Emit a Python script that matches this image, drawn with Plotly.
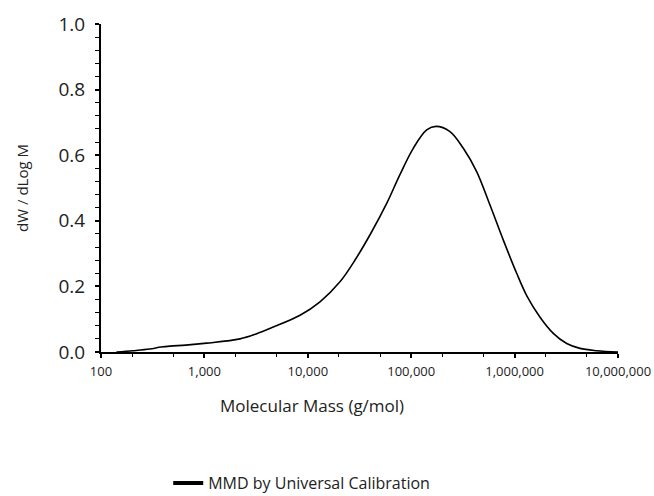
import plotly.graph_objects as go

# Molecular mass (g/mol) and dW/dLogM
mass = [141, 204, 295, 380, 465, 661, 1052, 2208, 3162, 4634, 8414, 13120, 20460,
        28840, 40740, 57940, 77620, 104700, 141300, 173800, 237100, 319200,
        429500, 578100, 778000, 1047000, 1309000, 1762000, 2366000, 3192000,
        4295000, 6223000, 10000000]
dw_dlogm = [0.0, 0.004, 0.009, 0.015, 0.018, 0.021, 0.027, 0.040, 0.055, 0.076, 0.112,
            0.153, 0.214, 0.282, 0.362, 0.453, 0.540, 0.621, 0.677, 0.688, 0.672,
            0.621, 0.550, 0.448, 0.341, 0.240, 0.172, 0.106, 0.057, 0.026,
            0.011, 0.004, 0.0]

x_tickvals = [100, 1000, 10000, 100000, 1000000, 10000000]
x_ticktext = ["100", "1,000", "10,000", "100,000", "1,000,000", "10,000,000"]
x_title = "Molecular Mass (g/mol)"
y_title = "dW / dLog M"
series_name = "MMD by Universal Calibration"

FONT = "Open Sans"

fig = go.Figure()
fig.add_trace(go.Scatter(
    x=mass, y=dw_dlogm, mode="lines",
    line=dict(color="black", width=1.6, shape="spline", smoothing=1.0),
    showlegend=False, hoverinfo="x+y"))
fig.add_trace(go.Scatter(
    x=[None], y=[None], mode="lines", name=series_name,
    line=dict(color="black", width=4), showlegend=True))

fig.update_layout(
    width=654, height=496,
    margin=dict(l=101, r=36, t=24, b=144, autoexpand=False),
    paper_bgcolor="white", plot_bgcolor="white",
    font=dict(family=FONT, color="#222", size=14),
    legend=dict(orientation="h", x=0.13, xanchor="left", y=-0.40, yanchor="middle",
                font=dict(size=16, family=FONT), itemwidth=30),
    annotations=[dict(text=x_title, xref="paper", yref="paper", x=0.408, y=-0.162,
                      xanchor="center", yanchor="middle", showarrow=False,
                      font=dict(size=17, family=FONT, color="#222"))],
)
fig.update_xaxes(
    type="log", range=[2, 7],
    tickvals=x_tickvals, ticktext=x_ticktext,
    tickfont=dict(size=13, family=FONT), ticklabelstandoff=2,
    ticks="outside", ticklen=4, tickwidth=1.5, tickcolor="black",
    minor=dict(ticks="outside", ticklen=3, tickwidth=1.2, tickcolor="black", showgrid=False),
    showline=True, linecolor="black", linewidth=2,
    showgrid=False, zeroline=False,
)
fig.update_yaxes(
    range=[0, 1], dtick=0.2, tickformat=".1f",
    tickfont=dict(size=19, family=FONT), ticklabelstandoff=6,
    ticks="outside", ticklen=4, tickwidth=1.5, tickcolor="black",
    minor=dict(dtick=0.04, ticks="outside", ticklen=4, tickwidth=1.2, tickcolor="black", showgrid=False),
    showline=True, linecolor="black", linewidth=2,
    showgrid=False, zeroline=False,
    title=dict(text=y_title, font=dict(size=15, family=FONT), standoff=26),
)

fig.write_html("out.html")
